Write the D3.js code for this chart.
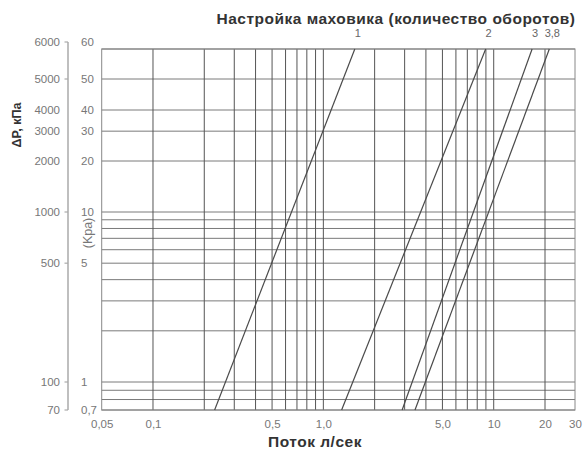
<!DOCTYPE html>
<html lang="ru">
<head>
<meta charset="utf-8">
<title>Настройка маховика</title>
<script src="https://cdn.jsdelivr.net/npm/d3@7"></script>
<style>
  body { margin: 0; background: #fff; }
  svg { display: block; font-family: "Liberation Sans", Arial, sans-serif; }
</style>
</head>
<body>
<div id="chart"></div>
<script>
// flow axis (л/сек)
const flowTicks = [0.05, 0.1, 0.5, 1, 5, 10, 20, 30];
const flowTickLabels = ["0,05", "0,1", "0,5", "1,0", "5,0", "10", "20", "30"];
const flowGrid = [0.1, 0.2, 0.3, 0.4, 0.5, 0.6, 0.7, 0.8, 0.9, 1, 2, 3, 4, 5, 6, 7, 8, 9, 10, 20];

// pressure axis (kPa inner, outer labels)
const dpGrid = [0.7, 0.8, 0.9, 1, 2, 3, 4, 5, 6, 7, 8, 9, 10, 20, 30, 40, 50, 60];
const dpTicks = [60, 50, 40, 30, 20, 10, 5, 1, 0.7];
const dpTickLabels = ["60", "50", "40", "30", "20", "10", "5", "1", "0,7"];
const dpOuterLabels = ["6000", "5000", "4000", "3000", "2000", "1000", "500", "100", "70"];
const dpOuterMarks = [60, 50, 10, 5, 1, 0.7];

// handwheel settings: flow at 0.7 kPa and at 60 kPa
const settings = ["1", "2", "3", "3,8"];
const flowAtLow = [0.23, 1.28, 2.90, 3.45];
const flowAtHigh = [1.53, 8.97, 16.8, 21.2];
const dpLow = 0.7, dpHigh = 60;

const W = 586, H = 457;
const svg = d3.select("#chart").append("svg")
  .attr("width", W).attr("height", H);

const x = d3.scaleLog().domain([0.05, 30]).range([101.7, 575]);
// the printed grid is stretched near the top, so the scale is piecewise
const y = d3.scaleLog().domain([0.7, 1, 10, 40, 50, 60]).range([410, 382, 212, 110, 79, 49]);
const yLab = d3.scaleLog().domain([0.7, 1, 10, 40, 50, 60]).range([410, 382, 212, 110, 79, 42]);

// horizontal grid
svg.append("g").selectAll("line").data(dpGrid).join("line")
  .attr("x1", x(0.05)).attr("x2", x(30))
  .attr("y1", d => y(d)).attr("y2", d => y(d))
  .attr("stroke", "#7a7a7a").attr("stroke-width", 1);

// vertical grid
svg.append("g").selectAll("line").data(flowGrid).join("line")
  .attr("x1", d => x(d)).attr("x2", d => x(d))
  .attr("y1", y(60)).attr("y2", y(0.7))
  .attr("stroke", "#555").attr("stroke-width", 1);

// frame
svg.append("rect")
  .attr("x", x(0.05)).attr("y", y(60))
  .attr("width", x(30) - x(0.05)).attr("height", y(0.7) - y(60))
  .attr("fill", "none").attr("stroke", "#888").attr("stroke-width", 1);

// setting lines
settings.forEach((s, i) => {
  svg.append("line")
    .attr("x1", x(flowAtLow[i])).attr("y1", y(dpLow))
    .attr("x2", x(flowAtHigh[i])).attr("y2", y(dpHigh))
    .attr("stroke", "#4a4a4a").attr("stroke-width", 1.2);
  svg.append("text")
    .attr("x", x(flowAtHigh[i]) + 3).attr("y", 37)
    .attr("text-anchor", "middle")
    .attr("font-size", 11).attr("fill", "#666")
    .text(s);
});

// x axis labels
const xAxis = svg.append("g")
  .attr("transform", `translate(0,${y(0.7)})`)
  .call(d3.axisBottom(x).tickValues(flowTicks)
    .tickFormat((d, i) => flowTickLabels[i]).tickSize(0).tickPadding(10));
xAxis.select(".domain").remove();
xAxis.selectAll("text").attr("font-size", 11.5).attr("fill", "#777")
  .attr("font-family", "Liberation Sans, Arial, sans-serif");

// inner kPa labels
const yIn = svg.append("g")
  .attr("transform", "translate(78,0)")
  .call(d3.axisRight(yLab).tickValues(dpTicks)
    .tickFormat((d, i) => dpTickLabels[i]).tickSize(0).tickPadding(3));
yIn.select(".domain").remove();
yIn.selectAll("text").attr("font-size", 11.5).attr("fill", "#777")
  .attr("font-family", "Liberation Sans, Arial, sans-serif");

// outer scale
const yOut = svg.append("g")
  .attr("transform", "translate(68,0)")
  .call(d3.axisLeft(yLab).tickValues(dpTicks)
    .tickFormat((d, i) => dpOuterLabels[i]).tickSize(0).tickPadding(8));
yOut.select(".domain").remove();
yOut.selectAll("text").attr("font-size", 11.5).attr("fill", "#777")
  .attr("font-family", "Liberation Sans, Arial, sans-serif");

svg.append("line")
  .attr("x1", 68).attr("x2", 68)
  .attr("y1", yLab(60)).attr("y2", yLab(0.7))
  .attr("stroke", "#aaa").attr("stroke-width", 1.5);
svg.append("g").selectAll("line").data(dpOuterMarks).join("line")
  .attr("x1", 64.5).attr("x2", 68)
  .attr("y1", d => yLab(d)).attr("y2", d => yLab(d))
  .attr("stroke", "#aaa").attr("stroke-width", 1.2);

// titles
svg.append("text")
  .attr("x", 396).attr("y", 24)
  .attr("text-anchor", "middle")
  .attr("font-size", 15.5).attr("font-weight", "bold").attr("fill", "#333")
  .attr("letter-spacing", 0.5)
  .text("Настройка маховика (количество оборотов)");

svg.append("text")
  .attr("x", 315).attr("y", 447)
  .attr("text-anchor", "middle")
  .attr("font-size", 15.5).attr("font-weight", "bold").attr("fill", "#333")
  .attr("letter-spacing", 0.5)
  .text("Поток л/сек");

svg.append("text")
  .attr("transform", "translate(21,125) rotate(-90)")
  .attr("text-anchor", "middle")
  .attr("font-size", 12.5).attr("font-weight", "bold").attr("fill", "#333")
  .text("ΔP, кПа");

svg.append("text")
  .attr("transform", "translate(92,233) rotate(-90)")
  .attr("text-anchor", "middle")
  .attr("font-size", 12.5).attr("fill", "#777")
  .text("(Kpa)");
</script>
</body>
</html>
